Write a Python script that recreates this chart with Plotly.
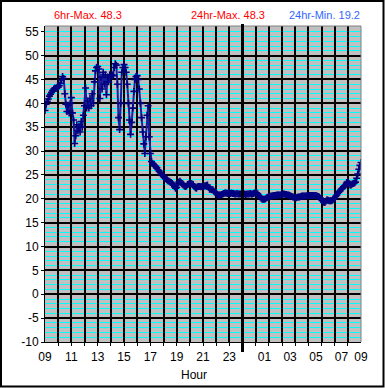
import pandas as pd
import plotly.graph_objects as go

# ---- data (5-minute readings, 09:00 -> 09:00 next day) ----
start_time = "2024-01-01 09:00"
end_time = "2024-01-02 09:00"
temps = [
    # 09
    38.5, 39.8, 40.4, 40.9, 41.5, 41.9, 42.3, 42.7, 43.0, 43.2, 43.1, 43.3,
    # 10
    43.4, 43.7, 44.2, 44.9, 45.6, 45.2, 42.0, 39.8, 38.3, 39.6, 38.0, 40.0,
    # 11
    41.2, 38.0, 36.5, 31.6, 33.2, 35.5, 34.2, 35.2, 34.0, 36.2, 35.0, 37.5,
    # 12
    39.5, 43.2, 39.0, 40.5, 39.0, 41.0, 39.5, 42.0, 40.0, 44.5, 46.8, 47.5,
    # 13
    47.7, 47.2, 41.0, 45.5, 43.0, 46.5, 44.0, 46.0, 41.8, 45.5, 44.5, 46.0,
    # 14
    45.5, 46.0, 45.8, 47.5, 48.3, 48.0, 44.0, 37.0, 34.5, 40.0, 46.5, 47.5,
    # 15
    48.1, 47.5, 46.5, 44.0, 40.0, 36.5, 33.5, 36.0, 39.0, 42.5, 45.0, 45.6,
    # 16
    45.8, 45.0, 43.0, 40.0, 37.0, 34.0, 31.5, 29.5, 33.0, 37.5, 39.5, 33.0,
    # 17
    29.5, 27.8, 27.4, 27.1, 26.9, 26.8, 26.5, 26.1, 25.8, 25.5, 25.2, 24.9,
    # 18
    24.7, 24.5, 24.2, 24.0, 23.8, 23.7, 23.5, 23.4, 23.2, 22.9, 22.5, 22.2,
    # 19
    22.4, 23.0, 23.5, 23.7, 23.4, 23.1, 22.9, 22.7, 22.6, 22.7, 23.0, 23.1,
    # 20
    23.1, 23.2, 23.1, 23.0, 22.6, 22.3, 22.2, 22.5, 22.6, 22.6, 22.5, 22.6,
    # 21
    22.6, 22.7, 22.7, 22.8, 22.9, 22.4, 22.0, 22.0, 21.9, 21.9, 21.6, 21.4,
    # 22
    21.3, 20.9, 20.7, 20.8, 20.8, 20.9, 21.0, 21.1, 21.2, 21.2, 21.1, 21.2,
    # 23
    21.2, 21.1, 21.2, 21.1, 21.1, 21.0, 21.0, 21.1, 21.0, 21.0, 21.0, 21.0,
    # 00
    21.0, 21.0, 21.0, 20.9, 21.0, 21.0, 21.0, 21.1, 21.0, 21.0, 21.1, 21.2,
    # 01
    21.2, 21.2, 21.0, 20.7, 20.4, 20.1, 19.9, 19.9, 19.9, 20.0, 20.2, 20.3,
    # 02
    20.4, 20.5, 20.6, 20.6, 20.7, 20.7, 20.7, 20.8, 20.8, 20.8, 20.8, 20.8,
    # 03
    20.9, 21.0, 21.0, 20.9, 20.9, 20.8, 20.8, 20.7, 20.6, 20.5, 20.4, 20.3,
    # 04
    20.2, 20.2, 20.3, 20.4, 20.4, 20.5, 20.6, 20.6, 20.6, 20.6, 20.6, 20.7,
    # 05
    20.7, 20.7, 20.7, 20.7, 20.7, 20.7, 20.7, 20.7, 20.6, 20.5, 20.4, 20.1,
    # 06
    19.8, 19.6, 19.3, 19.2, 19.5, 19.8, 19.7, 19.6, 19.6, 19.6, 19.7, 19.9,
    # 07
    20.1, 20.5, 20.8, 21.2, 21.5, 21.7, 22.0, 22.2, 22.5, 22.7, 22.9, 23.4,
    # 08
    23.6, 23.2, 22.9, 22.9, 23.1, 23.2, 23.3, 23.5, 24.3, 25.2, 26.2, 27.0,
    # 09
    27.6,
]
times = pd.date_range(start_time, periods=len(temps), freq="5min")

x_tick_times = ["2024-01-01 09:00", "2024-01-01 11:00", "2024-01-01 13:00",
                "2024-01-01 15:00", "2024-01-01 17:00", "2024-01-01 19:00",
                "2024-01-01 21:00", "2024-01-01 23:00", "2024-01-02 01:40",
                "2024-01-02 03:37", "2024-01-02 05:35", "2024-01-02 07:31",
                "2024-01-02 09:00"]
x_tick_labels = ["09", "11", "13", "15", "17", "19", "21", "23",
                 "01", "03", "05", "07", "09"]
y_tick_vals = [-10, -5, 0, 5, 10, 15, 20, 25, 30, 35, 40, 45, 50, 55]
y_tick_labels = [str(v) for v in y_tick_vals]
hour_grid = list(pd.date_range("2024-01-01 10:00", "2024-01-02 08:00", freq="1h"))
midnight = "2024-01-02 00:00"

six_hr_max = 48.3
day_max = 48.3
day_min = 19.2

y_range = [-10, 56.2]
FONT = "Arial, Liberation Sans, sans-serif"

fig = go.Figure()
fig.add_trace(go.Scatter(
    x=times, y=temps, mode="lines+markers",
    line=dict(color="#1C1CA0", width=2),
    marker=dict(symbol="cross-thin", size=5, line=dict(color="#000080", width=1.6), color="#000080"),
    showlegend=False, hoverinfo="skip",
))
fig.add_trace(go.Scatter(x=[], y=[], xaxis="x2", yaxis="y2", showlegend=False))

fig.update_layout(
    width=385, height=388,
    margin=dict(l=45, r=24, t=26, b=46),
    paper_bgcolor="white", plot_bgcolor="#C0C0C0",
    font=dict(family=FONT, size=12, color="black"),
    xaxis=dict(
        type="date", range=[start_time, end_time],
        tickmode="array", tickvals=hour_grid, showticklabels=False,
        ticks="outside", ticklen=3, tickcolor="black",
        showgrid=True, gridcolor="black", gridwidth=2,
        showline=True, linecolor="black", linewidth=1,
        zeroline=False,
    ),
    xaxis2=dict(
        type="date", range=[start_time, end_time], overlaying="x", anchor="y2",
        side="bottom", tickmode="array", tickvals=x_tick_times, ticktext=x_tick_labels,
        ticks="", showgrid=False, showline=False, zeroline=False,
        tickfont=dict(size=12, family=FONT, color="black"),
        ticklabelstandoff=6,
    ),
    yaxis=dict(
        range=y_range, tickmode="array", tickvals=y_tick_vals, ticktext=y_tick_labels,
        ticks="outside", ticklen=3, tickcolor="black",
        showgrid=False, zeroline=False,
        showline=True, linecolor="black", linewidth=1,
        tickfont=dict(size=12, family=FONT, color="black"),
        minor=dict(tickmode="linear", tick0=-10, dtick=1, showgrid=True,
                   gridcolor="#00FFFF", gridwidth=1, ticks=""),
    ),
    yaxis2=dict(
        range=y_range, overlaying="y", anchor="x2", side="left",
        tickmode="array", tickvals=y_tick_vals[1:-1], showticklabels=False,
        ticks="", showgrid=True, gridcolor="black", gridwidth=2,
        showline=False, zeroline=False,
    ),
)

# plot frame (top + right, grey)
fig.add_shape(type="path", xref="paper", yref="paper", path="M0,1 L1,1 L1,0",
              line=dict(color="#808080", width=1), layer="above")
# midnight divider
fig.add_shape(type="line", xref="x", yref="paper", x0=midnight, x1=midnight,
              y0=-0.032, y1=1.006, line=dict(color="black", width=3), layer="above")
# outer border
fig.add_shape(type="rect", xref="paper", yref="paper",
              x0=(1 - 45) / 316, x1=(383.5 - 45) / 316,
              y0=(342 - 386.5) / 316, y1=(342 - 1) / 316,
              line=dict(color="black", width=2), layer="above")

ann_y = (342 - 15) / 316
common = dict(xref="paper", yref="paper", showarrow=False, xanchor="center", yanchor="middle")
fig.add_annotation(text=f"6hr-Max. {six_hr_max}", x=(88 - 45) / 316, y=ann_y,
                   font=dict(color="#FF0000", size=11, family=FONT), **common)
fig.add_annotation(text=f"24hr-Max. {day_max}", x=(228 - 45) / 316, y=ann_y,
                   font=dict(color="#FF0000", size=11, family=FONT), **common)
fig.add_annotation(text=f"24hr-Min. {day_min}", x=(324 - 45) / 316, y=ann_y,
                   font=dict(color="#3366FF", size=11, family=FONT), **common)
fig.add_annotation(text="Hour", x=(194 - 45) / 316, y=(342 - 375) / 316,
                   font=dict(color="black", size=12, family=FONT), **common)

fig.write_html("out.html", config={"displayModeBar": False},
               post_script="document.body.style.margin='0';")
